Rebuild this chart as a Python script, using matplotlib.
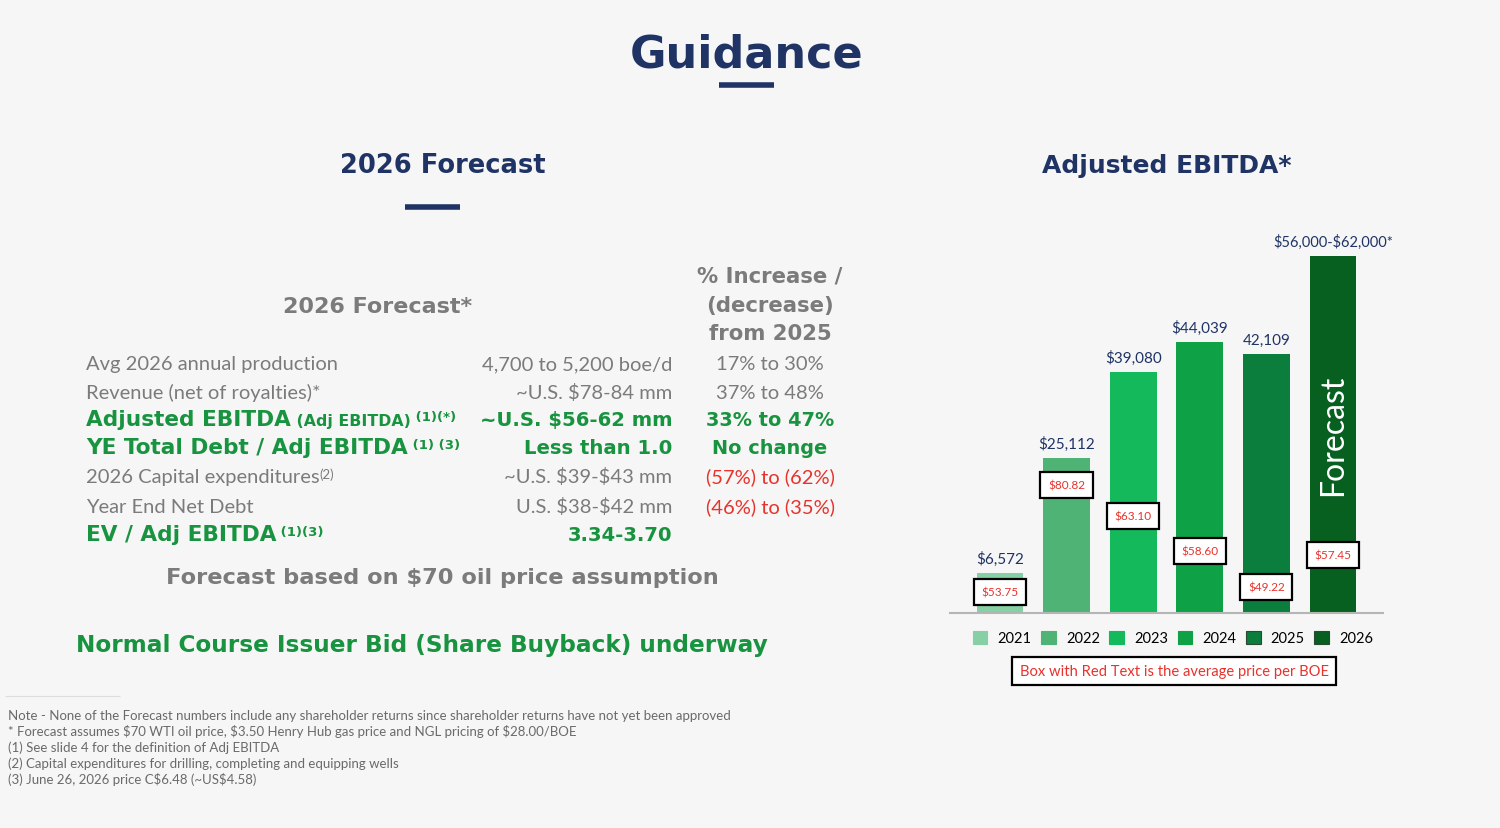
import matplotlib
matplotlib.use("Agg")
import matplotlib.pyplot as plt
from matplotlib.patches import Patch

W, H = 1500, 829
FONT = ["Lato", "DejaVu Sans"]
BOLD = ["DejaVu Sans"]          # heavy, wide bold – closest to the slide's bold face
plt.rcParams["font.family"] = FONT
plt.rcParams["text.parse_math"] = False   # plenty of "$" in the slide

NAVY = "#1f3465"
GREEN = "#18933f"
GRAY = "#7b7b7b"
RED = "#e8322b"
BG = "#f6f6f6"

# ── Chart data ────────────────────────────────────────────────────────────────
YEARS = ["2021", "2022", "2023", "2024", "2025", "2026"]
EBITDA = [6572, 25112, 39080, 44039, 42109, 58000]
EBITDA_LABELS = ["$6,572", "$25,112", "$39,080", "$44,039", "42,109",
                 "$56,000-$62,000*"]
PRICE_BOE = ["$53.75", "$80.82", "$63.10", "$58.60", "$49.22", "$57.45"]
BAR_COLORS = ["#87cfa4", "#4fb376", "#14b95b", "#0fa145", "#0b7d3d", "#07601f"]
# vertical spot of each price box on its bar (axis units)
PRICE_BOX_Y = [3400, 20800, 15700, 10100, 4200, 9400]

# ── Table data ────────────────────────────────────────────────────────────────
ROW_LABELS = [
    [("Avg 2026 annual production", "reg")],
    [("Revenue (net of royalties)*", "reg")],
    [("Adjusted EBITDA", "big"), (" (Adj EBITDA)", "mid"), (" (1)(*)", "sup")],
    [("YE Total Debt / Adj EBITDA", "big"), (" (1) (3)", "sup")],
    [("2026 Capital expenditures", "reg"), ("(2)", "supreg")],
    [("Year End Net Debt", "reg")],
    [("EV / Adj EBITDA", "big"), (" (1)(3)", "sup")],
]
ROW_VALUES = ["4,700 to 5,200 boe/d", "~U.S. $78-84 mm", "~U.S. $56-62 mm",
              "Less than 1.0", "~U.S. $39-$43 mm", "U.S. $38-$42 mm",
              "3.34-3.70"]
ROW_CHANGES = ["17% to 30%", "37% to 48%", "33% to 47%", "No change",
               "(57%) to (62%)", "(46%) to (35%)", ""]
ROW_KEY = [False, False, True, True, False, False, True]
CHANGE_COLORS = [GRAY, GRAY, GREEN, GREEN, RED, RED, GREEN]
ROW_BASE = [370, 399, 426, 454, 483, 513, 541]

FOOTNOTES = [
    "Note - None of the Forecast numbers include any shareholder returns since shareholder returns have not yet been approved",
    "* Forecast assumes $70 WTI oil price, $3.50 Henry Hub gas price and NGL pricing of $28.00/BOE",
    "(1) See slide 4 for the definition of Adj EBITDA",
    "(2) Capital expenditures for drilling, completing and equipping wells",
    "(3) June 26, 2026 price C$6.48 (~US$4.58)",
]

STYLES = {
    "reg":    dict(size=14.5, weight="normal", dy=0, family=FONT),
    "big":    dict(size=15.6, weight="bold", dy=0, family=BOLD),
    "mid":    dict(size=11.3, weight="bold", dy=0, family=BOLD),
    "sup":    dict(size=9.5, weight="bold", dy=5, family=BOLD),
    "supreg": dict(size=9.5, weight="normal", dy=4, family=FONT),
}


def P(x, y):
    """pixel (from top-left) -> figure fraction"""
    return x / W, 1 - y / H


fig = plt.figure(figsize=(W / 100, H / 100), dpi=100, facecolor=BG)
renderer = fig.canvas.get_renderer()


def put(x, y, s, **kw):
    return fig.text(*P(x, y), s, **kw)


def put_bold(x, y, s, **kw):
    return put(x, y, s, family=BOLD, fontweight="bold", **kw)


def put_runs(x, y, pieces, color):
    for txt, st in pieces:
        s = STYLES[st]
        t = put(x, y - s["dy"], txt, fontsize=s["size"], fontweight=s["weight"],
                family=s["family"], color=color, ha="left", va="baseline")
        x += t.get_window_extent(renderer).width


def hline(x0, x1, y, lw=4, color=NAVY):
    fig.add_artist(plt.Line2D([x0 / W, x1 / W], [1 - y / H] * 2, lw=lw,
                              color=color, transform=fig.transFigure,
                              solid_capstyle="butt"))


# ── Headings ──────────────────────────────────────────────────────────────────
put_bold(747, 67, "Guidance", fontsize=32, color=NAVY, ha="center",
         va="baseline")
hline(719, 774, 86)
put_bold(443, 173, "2026 Forecast", fontsize=18.5, color=NAVY, ha="center",
         va="baseline")
hline(405, 460, 208)
put_bold(1167, 173, "Adjusted EBITDA*", fontsize=18, color=NAVY,
         ha="center", va="baseline")

# ── Table ─────────────────────────────────────────────────────────────────────
put_bold(378, 313, "2026 Forecast*", fontsize=16, color=GRAY, ha="center",
         va="baseline")
for i, line in enumerate(["% Increase /", "(decrease)", "from 2025"]):
    put_bold(770, 283 + 28.7 * i, line, fontsize=15.3, color=GRAY,
             ha="center", va="baseline")

for i in range(len(ROW_LABELS)):
    key = ROW_KEY[i]
    col = GREEN if key else GRAY
    put_runs(86, ROW_BASE[i], ROW_LABELS[i], col)
    if key:
        put_bold(672, ROW_BASE[i], ROW_VALUES[i], fontsize=14.1, color=col,
                 ha="right", va="baseline")
        put_bold(770, ROW_BASE[i], ROW_CHANGES[i], fontsize=13.9,
                 color=CHANGE_COLORS[i], ha="center", va="baseline")
    else:
        put(672, ROW_BASE[i], ROW_VALUES[i], fontsize=14.5, color=col,
            ha="right", va="baseline")
        put(770, ROW_BASE[i], ROW_CHANGES[i], fontsize=14.5,
            color=CHANGE_COLORS[i], ha="center", va="baseline")

put_bold(442, 584, "Forecast based on $70 oil price assumption",
         fontsize=16.2, color=GRAY, ha="center", va="baseline")
put_bold(422, 652, "Normal Course Issuer Bid (Share Buyback) underway",
         fontsize=16.7, color=GREEN, ha="center", va="baseline")

# ── Footnotes ─────────────────────────────────────────────────────────────────
hline(5, 120, 697, lw=0.8, color="#dddddd")
for i, note in enumerate(FOOTNOTES):
    put(8, 720 + 16 * i, note, fontsize=9.5, color="#6a6a6a", ha="left",
        va="baseline")

# ── Bar chart ─────────────────────────────────────────────────────────────────
ax = fig.add_axes([950 / W, 1 - 614 / H, 433 / W, 369.6 / H])
ax.set_facecolor("none")
x = list(range(len(YEARS)))
bars = ax.bar(x, EBITDA, width=0.7, color=BAR_COLORS, zorder=2)
ax.set_xlim(-0.75, 5.75)
ax.set_ylim(0, 60000)
for sp in ["top", "left", "right"]:
    ax.spines[sp].set_visible(False)
ax.spines["bottom"].set_color("#b5b5b5")
ax.spines["bottom"].set_linewidth(1.5)
ax.set_xticks([])
ax.set_yticks([])

for i, b in enumerate(bars):
    last = i == len(bars) - 1
    ax.annotate(EBITDA_LABELS[i], (b.get_x() + b.get_width() / 2, b.get_height()),
                xytext=(0, 5), textcoords="offset points",
                ha="center", va="bottom", fontsize=10.5 if last else 11,
                color=NAVY, annotation_clip=False)
    ax.text(i, PRICE_BOX_Y[i], PRICE_BOE[i], ha="center", va="center",
            fontsize=8.5, color=RED, zorder=4,
            bbox=dict(boxstyle="square,pad=0.65", fc="white", ec="black",
                      lw=1.6))

ax.text(5, 29000, "Forecast", rotation=90, ha="center", va="center",
        fontsize=23, color="white", zorder=3)

handles = [Patch(facecolor=c, edgecolor=("#2b4a33" if i >= 4 else c), lw=0.8)
           for i, c in enumerate(BAR_COLORS)]
fig.legend(handles, YEARS, loc="center", bbox_to_anchor=P(1173, 639), ncol=6,
           frameon=False, fontsize=10.5, handlelength=1.0, handleheight=1.0,
           handletextpad=0.7, columnspacing=0.65)

put(1174, 676, "Box with Red Text is the average price per BOE",
    fontsize=10.6, color=RED, ha="center", va="baseline",
    bbox=dict(boxstyle="square,pad=0.5", fc="white", ec="black", lw=1.6))

fig.savefig("out.png", dpi=100, facecolor=BG)
